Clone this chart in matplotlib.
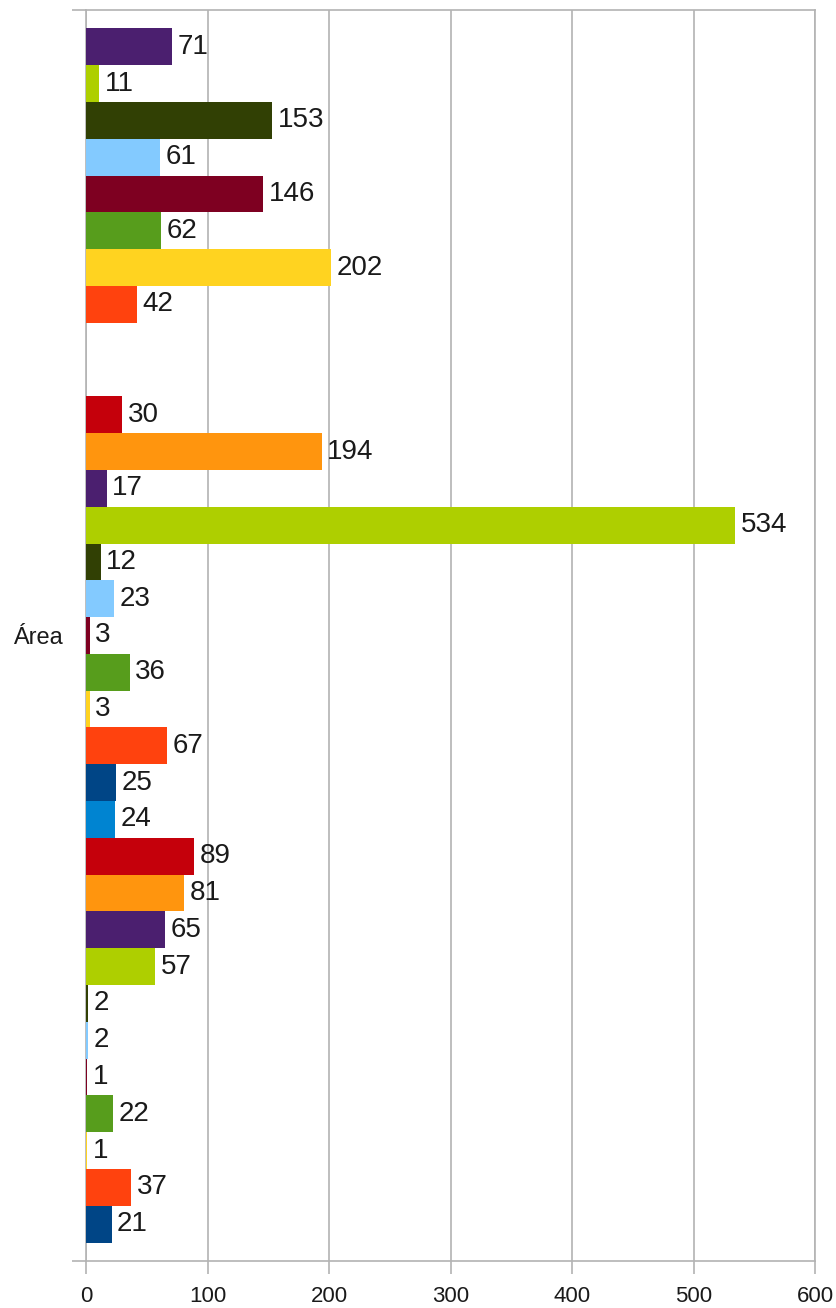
import numpy as np
import matplotlib
matplotlib.use('Agg')
import matplotlib.pyplot as plt

plt.rcParams['font.family'] = ['Liberation Sans', 'DejaVu Sans']

# One category, 33 series (listed bottom to top, as drawn); None = no bar
category = 'Área'
values = [21, 37, 1, 22, 1, 2, 2, 57, 65, 81, 89, 24,
          25, 67, 3, 36, 3, 23, 12, 534, 17, 194, 30, None,
          None, 42, 202, 62, 146, 61, 153, 11, 71]
palette = ['#004586', '#ff420e', '#ffd320', '#579d1c', '#7e0021', '#83caff',
           '#314004', '#aecf00', '#4b1f6f', '#ff950e', '#c5000b', '#0084d1']
x_ticks = [0, 100, 200, 300, 400, 500, 600]

grid_col = '#b3b3b3'
text_col = '#1a1a1a'

fig = plt.figure(figsize=(8.36, 13.08), dpi=100)
ax = fig.add_axes([86 / 836, 1 - 1261 / 1308, (815 - 86) / 836, (1261 - 10) / 1308])

n = len(values)
pos = np.arange(n)
for i, v in enumerate(values):
    if v is None:
        continue
    ax.barh(pos[i], v, height=1.0, color=palette[i % len(palette)], zorder=3)
    ax.annotate(str(v), (v, pos[i]), xytext=(4, 0), textcoords='offset points',
                ha='left', va='center', fontsize=20, color=text_col, zorder=4)

ax.set_xlim(0, 600)
ax.set_ylim(-1, n)
ax.set_xticks(x_ticks)
ax.set_xticklabels([str(t) for t in x_ticks], fontsize=16, color=text_col)
ax.tick_params(axis='x', direction='out', length=9, width=1.2, color=grid_col, pad=9)
ax.xaxis.grid(True, color=grid_col, linewidth=1.2, zorder=0)

# category label in the middle, boundary ticks at the edges
ax.set_yticks([(n - 1) / 2])
ax.set_yticklabels([category], fontsize=17, color=text_col)
ax.tick_params(axis='y', which='major', length=0, pad=17)
ax.set_yticks([-1, n], minor=True)
ax.tick_params(axis='y', which='minor', direction='out', length=10, width=1.2, color=grid_col)

for sp in ax.spines.values():
    sp.set_color(grid_col)
    sp.set_linewidth(1.2)

fig.savefig('out.png', dpi=100)
